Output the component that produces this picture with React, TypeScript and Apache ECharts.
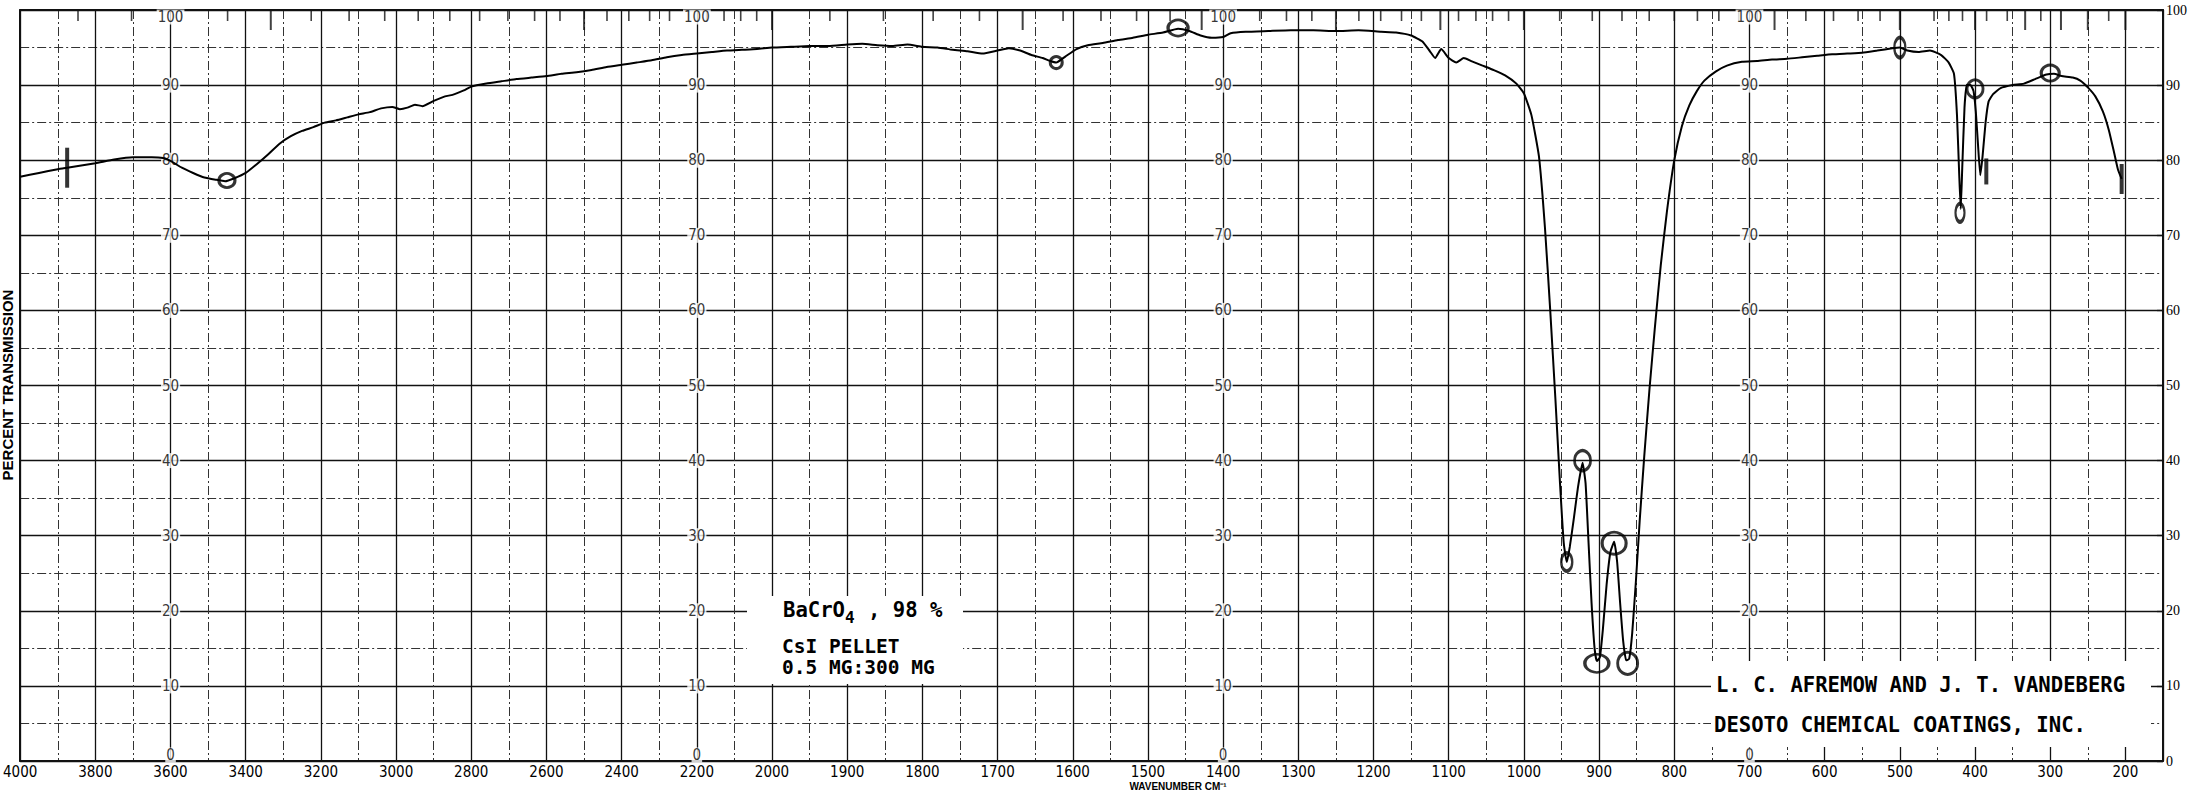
import React, { useEffect, useRef } from "react";
import * as echarts from "echarts";

// ---------- DATA ----------
// spectrum: wavenumber (cm-1) and percent transmission
const wavenumbers = [
  4000, 3950, 3900, 3875, 3850, 3800, 3750, 3700, 3650, 3620, 3600, 3570, 3540, 3510, 3480, 3455, 3430, 3400,
  3370, 3340, 3310, 3280, 3250, 3220, 3190, 3160, 3130, 3100, 3070, 3040, 3010, 2990, 2970, 2950, 2930, 2900,
  2870, 2850, 2820, 2800, 2760, 2720, 2680, 2640, 2600, 2560, 2520, 2480, 2440, 2400, 2360, 2320, 2280, 2240,
  2200, 2160, 2120, 2080, 2040, 2000, 1975, 1950, 1925, 1900, 1880, 1860, 1840, 1820, 1800, 1780, 1760, 1740,
  1720, 1700, 1685, 1670, 1655, 1640, 1630, 1622, 1610, 1595, 1580, 1560, 1540, 1520, 1500, 1480, 1460, 1445,
  1430, 1415, 1400, 1390, 1370, 1340, 1310, 1280, 1250, 1220, 1190, 1170, 1150, 1135, 1125, 1118, 1110, 1100,
  1090, 1080, 1070, 1055, 1040, 1025, 1010, 1000, 990, 980, 972, 965, 958, 952, 947, 943, 939, 934, 928, 922,
  918, 914, 910, 906, 903, 899, 895, 890, 885, 880, 876, 872, 868, 864, 860, 856, 851, 846, 840, 833, 826, 818,
  810, 800, 790, 780, 770, 760, 745, 730, 710, 690, 670, 650, 630, 610, 590, 570, 550, 530, 510, 500, 490, 475,
  460, 445, 435, 428, 424, 421, 419, 417, 414, 411, 406, 402, 399, 396, 393, 390, 386, 382, 376, 366, 350, 335,
  320, 305, 295, 285, 270, 260, 250, 240, 230, 222, 215, 210, 205,
];
const transmission = [
  77.8, 78.3, 78.8, 79.0, 79.2, 79.6, 80.1, 80.4, 80.4, 80.3, 79.9, 79.0, 78.3, 77.7, 77.4, 77.2, 77.6, 78.3,
  79.5, 80.8, 82.2, 83.2, 83.9, 84.4, 85.0, 85.3, 85.7, 86.1, 86.4, 86.9, 87.1, 86.8, 87.0, 87.4, 87.2, 87.9,
  88.5, 88.7, 89.3, 89.8, 90.2, 90.5, 90.8, 91.0, 91.2, 91.5, 91.7, 92.0, 92.4, 92.7, 93.0, 93.3, 93.7, 94.0,
  94.2, 94.4, 94.6, 94.7, 94.8, 95.0, 95.1, 95.2, 95.2, 95.4, 95.5, 95.3, 95.2, 95.4, 95.1, 95.0, 94.7, 94.5,
  94.2, 94.6, 94.9, 94.6, 94.0, 93.6, 93.2, 93.0, 93.8, 94.8, 95.3, 95.6, 96.0, 96.3, 96.7, 97.0, 97.5, 97.2,
  96.6, 96.3, 96.4, 96.9, 97.1, 97.2, 97.3, 97.3, 97.2, 97.3, 97.1, 97.0, 96.6, 95.8, 94.5, 93.6, 94.8, 93.6,
  93.0, 93.6, 93.2, 92.6, 92.0, 91.3, 90.2, 88.9, 86.0, 80.5, 71.0, 60.0, 48.0, 37.0, 29.0, 26.5, 28.5, 32.0, 36.5, 39.7,
  37.0, 29.0, 21.0, 15.0, 13.3, 13.8, 17.5, 23.5, 27.8, 29.2, 26.5, 21.0, 16.0, 13.4, 13.6, 17.0, 24.0, 32.0, 40.5, 49.5, 57.5, 66.0,
  73.0, 80.0, 84.5, 87.3, 89.2, 90.6, 91.8, 92.6, 93.1, 93.2, 93.4, 93.5, 93.7, 93.9, 94.1, 94.2, 94.3, 94.6, 94.9, 95.0, 94.6, 94.4,
  94.6, 94.0, 93.0, 91.5, 86.0, 78.0, 73.5, 79.0, 87.0, 90.0, 90.0, 89.2, 86.5, 82.0, 78.0, 80.5, 85.0, 87.8, 88.8, 89.6, 90.0, 90.2,
  90.8, 91.4, 91.5, 91.2, 91.0, 90.6, 89.7, 88.5, 86.5, 84.0, 81.0, 78.8, 77.5,
];

// bottom tick labels (wavenumber)
const xTickLabels = [
  4000, 3800, 3600, 3400, 3200, 3000, 2800, 2600, 2400, 2200, 2000, 1900, 1800, 1700, 1600, 1500, 1400, 1300,
  1200, 1100, 1000, 900, 800, 700, 600, 500, 400, 300, 200,
];
const xEnd = 150; // right edge of the chart paper (cm-1)
// percent transmission tick labels
const yTicks = [0, 10, 20, 30, 40, 50, 60, 70, 80, 90, 100];
// columns (wavenumber) where the % scale is printed inside the chart
const labelColumns = [3600, 2200, 1400, 700];
// scale labels hidden under the typed name box: [column, %T]
const hiddenScaleLabels = [[700, 10]];
// wavelength (micron) ticks printed along the top edge
const micronMinor = [
  2.6, 2.7, 2.8, 2.9, 3.1, 3.2, 3.3, 3.4, 3.5, 3.6, 3.7, 3.8, 3.9, 4.1, 4.2, 4.3, 4.4, 4.5, 4.6, 4.7, 4.8, 4.9,
  5.2, 5.4, 5.6, 5.8, 6.2, 6.4, 6.6, 6.8, 7.2, 7.4, 7.6, 7.8, 8.2, 8.4, 8.6, 8.8, 9.2, 9.4, 9.6, 9.8, 10.5, 11,
  11.5, 12, 12.5, 13, 13.5, 14, 14.5, 16, 17, 18, 19, 22, 23, 24, 26, 28, 32, 45,
];
const micronMajor = [3, 4, 5, 6, 7, 8, 9, 10, 15, 20, 25, 30, 35, 40, 50];
// hand-drawn pen marks on the scan: [wavenumber, %T]
const penCircles = [
  [3450, 77.3], [1622, 93.0], [1460, 97.6], [943, 26.5], [922, 40.0], [903, 13.0], [880, 29.0], [862, 13.0],
  [500, 95.0], [420, 73.0], [400, 89.5], [300, 91.6],
];
const penBars = [[3875, 79.0], [385, 78.5], [205, 77.5]];

// ---------- helpers ----------
// chart paper: 4000-2000 at half the scale of 2000-150
const toU = (nu: number) => (nu >= 2000 ? (4000 - nu) / 2 : 1000 + (2000 - nu));
const toNu = (u: number) => (u <= 1000 ? 4000 - 2 * u : 2000 - (u - 1000));

const circleSizes: number[][] = [
  [16, 14], [12, 12], [20, 16], [11, 18], [16, 20], [24, 18], [24, 22], [20, 22], [11, 20], [9, 18], [16, 18], [18, 16],
];
const barSizes: number[][] = [[4, 40], [4, 26], [4, 30]];

const NARROW = "'Liberation Sans Narrow', 'DejaVu Sans Condensed', 'Liberation Sans', sans-serif";
const MONO = "'DejaVu Sans Mono', 'Liberation Mono', monospace";
const INK = "#111";

function buildOption() {
  const uMax = toU(xEnd);
  const labelSet = new Set(xTickLabels.map(toU));
  const spectrum = wavenumbers.map((nu, i) => [toU(nu), transmission[i]]);

  const scaleLabels: any[] = [];
  labelColumns.forEach((col) => {
    yTicks.forEach((t) => {
      if (hiddenScaleLabels.some((h) => h[0] === col && h[1] === t)) return;
      scaleLabels.push({
        value: [toU(col), t],
        label: { offset: t === 100 ? [0, 7] : t === 0 ? [0, -6] : [0, 0] },
      });
    });
  });

  const minorTicks = micronMinor.map((l) => [toU(10000 / l), 100]);
  const majorTicks = micronMajor.map((l) => [toU(10000 / l), 100]);

  const circles = penCircles.map((p, i) => ({ value: [toU(p[0]), p[1]], symbolSize: circleSizes[i] }));
  const bars = penBars.map((p, i) => ({ value: [toU(p[0]), p[1]], symbolSize: barSizes[i] }));

  const border = { show: true, onZero: false, lineStyle: { color: INK, width: 2 } };
  const typed = (text: string, x: number, y: number, size = 20.6) => ({
    type: "text", x, y, z: 101,
    style: { text, font: `bold ${size}px ${MONO}`, fill: "#000", verticalAlign: "middle" },
  });

  return {
    animation: false,
    backgroundColor: "#fff",
    grid: { left: 19, right: 36, top: 10, bottom: 31, show: false },
    xAxis: [
      {
        type: "value",
        min: 0,
        max: uMax,
        interval: 100,
        position: "bottom",
        axisLine: border,
        axisTick: { show: false },
        axisLabel: {
          formatter: (v: number) => (labelSet.has(v) ? String(toNu(v)) : ""),
          showMaxLabel: false,
          color: "#000",
          fontSize: 15,
          margin: 3,
          fontFamily: NARROW,
        },
        splitLine: { show: true, lineStyle: { color: INK, width: 1.3 } },
        minorTick: { show: false, splitNumber: 2 },
        minorSplitLine: { show: true, lineStyle: { color: "#333", width: 1, type: [9, 3, 2, 3] } },
      },
      {
        type: "value",
        min: 0,
        max: uMax,
        position: "top",
        axisLine: border,
        axisTick: { show: false },
        axisLabel: { show: false },
        splitLine: { show: false },
      },
    ],
    yAxis: [
      {
        type: "value",
        min: 0,
        max: 100,
        interval: 10,
        position: "left",
        axisLine: border,
        axisTick: { show: false },
        axisLabel: { show: false },
        splitLine: { show: true, lineStyle: { color: INK, width: 1.3 } },
        minorTick: { show: false, splitNumber: 2 },
        minorSplitLine: { show: true, lineStyle: { color: "#333", width: 1, type: [9, 3, 2, 3] } },
      },
      {
        type: "value",
        min: 0,
        max: 100,
        interval: 10,
        position: "right",
        axisLine: border,
        axisTick: { show: true, inside: true, length: 6, lineStyle: { color: INK, width: 1.3 } },
        axisLabel: { show: true, color: "#000", fontSize: 14, margin: 3, fontFamily: "'Liberation Serif', serif" },
        splitLine: { show: false },
      },
    ],
    series: [
      {
        type: "line",
        data: spectrum,
        showSymbol: false,
        smooth: 0.15,
        lineStyle: { color: "#000", width: 2 },
        z: 6,
        silent: true,
      },
      {
        type: "scatter",
        data: scaleLabels,
        symbolSize: 1,
        itemStyle: { color: "rgba(0,0,0,0)" },
        label: {
          show: true,
          position: "inside",
          formatter: (p: any) => String(p.value[1]),
          backgroundColor: "#fff",
          padding: [0, 1],
          color: "#000",
          fontSize: 15,
          fontFamily: NARROW,
        },
        z: 4,
        silent: true,
      },
      {
        type: "scatter",
        data: minorTicks,
        symbol: "rect",
        symbolSize: [1.6, 11],
        symbolOffset: [0, 5.5],
        itemStyle: { color: INK },
        z: 3,
        silent: true,
      },
      {
        type: "scatter",
        data: majorTicks,
        symbol: "rect",
        symbolSize: [2, 20],
        symbolOffset: [0, 10],
        itemStyle: { color: INK },
        z: 3,
        silent: true,
      },
      {
        type: "scatter",
        data: circles,
        symbol: "circle",
        itemStyle: { color: "rgba(0,0,0,0)", borderColor: "#000", borderWidth: 3 },
        z: 7,
        silent: true,
      },
      {
        type: "scatter",
        data: bars,
        symbol: "rect",
        itemStyle: { color: "#000" },
        z: 7,
        silent: true,
      },
    ],
    graphic: [
      { type: "rect", shape: { x: 747, y: 596, width: 216, height: 88 }, style: { fill: "#fff" }, z: 100 },
      typed("BaCrO", 783, 610),
      typed("4", 845, 617, 16),
      typed(", 98 %", 868, 610),
      typed("CsI PELLET", 782, 646, 19.5),
      typed("0.5 MG:300 MG", 782, 667, 19.5),
      { type: "rect", shape: { x: 1711, y: 661, width: 440, height: 86 }, style: { fill: "#fff" }, z: 100 },
      typed("L. C. AFREMOW AND J. T. VANDEBERG", 1716, 685),
      typed("DESOTO CHEMICAL COATINGS, INC.", 1714, 725),
      {
        type: "text", x: 7, y: 385, rotation: Math.PI / 2, z: 101,
        style: {
          text: "PERCENT TRANSMISSION",
          font: "bold 15px 'Liberation Sans', sans-serif",
          fill: "#000",
          align: "center",
          verticalAlign: "middle",
        },
      },
      {
        type: "text", x: 1178, y: 781, z: 101,
        style: {
          text: "WAVENUMBER CM\u207B\u00B9",
          font: "bold 10px 'Liberation Sans', sans-serif",
          fill: "#000",
          align: "center",
          verticalAlign: "top",
        },
      },
    ],
  };
}

export default function App() {
  const ref = useRef<HTMLDivElement>(null);
  useEffect(() => {
    if (!ref.current) return;
    const chart = echarts.init(ref.current, null, { renderer: "svg" });
    chart.setOption(buildOption() as any);
    return () => chart.dispose();
  }, []);
  return (
    <div
      ref={ref}
      style={{ position: "fixed", left: 0, top: 0, width: 2199, height: 792, background: "#fff" }}
    />
  );
}
